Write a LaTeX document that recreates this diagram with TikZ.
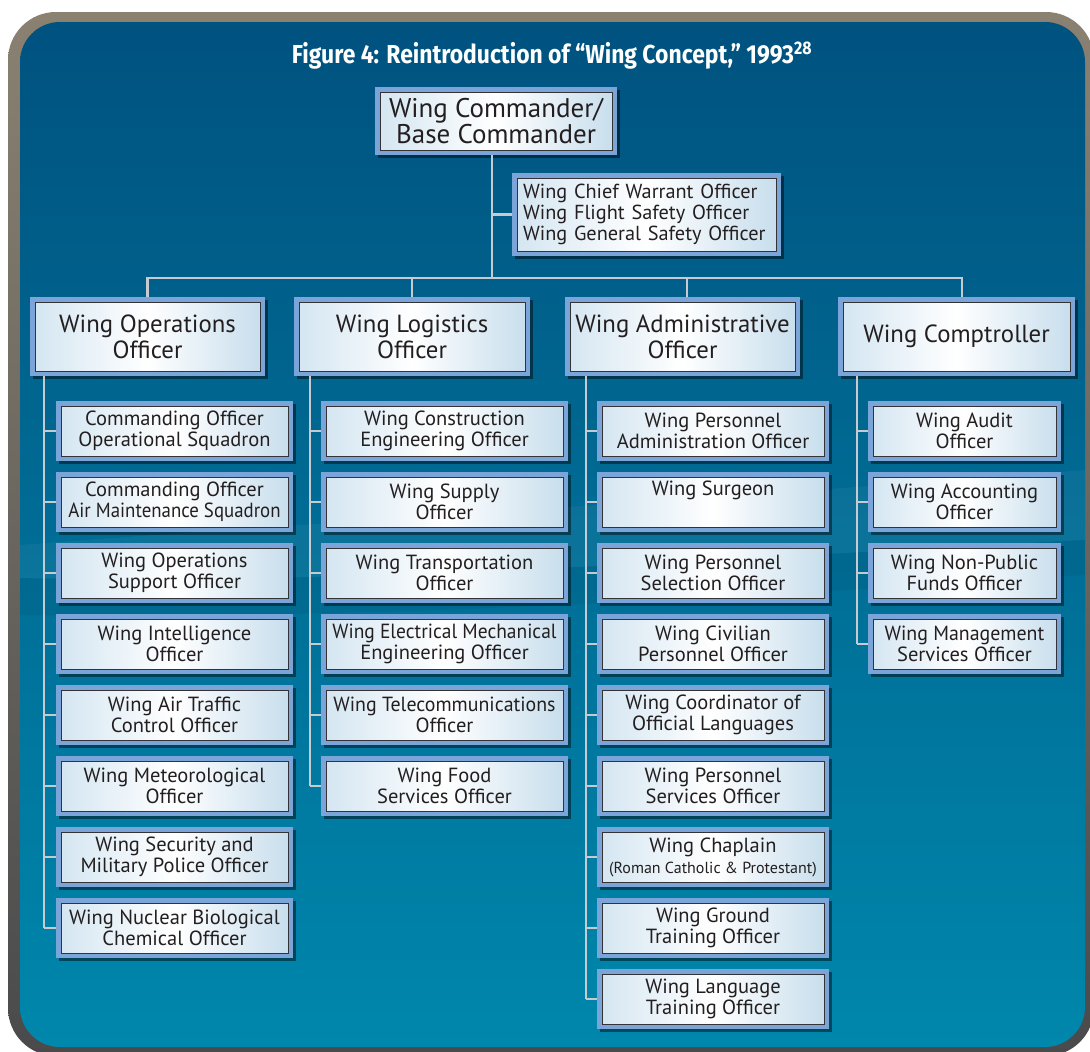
\documentclass[tikz,border=0pt]{standalone}
\usepackage{fontspec}
\setmainfont{PT Sans}
\newfontfamily\titlefont{Fira Sans}
\usetikzlibrary{shadows,calc}
\definecolor{bgtop}{HTML}{00527F}
\definecolor{bgbot}{HTML}{0087AC}
\definecolor{boxblue}{HTML}{7BA4D8}
\definecolor{conncol}{HTML}{C5CBD0}
\definecolor{brdtop}{HTML}{8A8171}
\definecolor{brdbot}{HTML}{4A4A4C}
\definecolor{txt}{HTML}{231F20}
\definecolor{inl}{HTML}{D3E5F1}
\definecolor{inr}{HTML}{C6DDEC}
\definecolor{edge}{HTML}{333335}
\newcommand{\sq}[2]{\scalebox{#1}[1]{#2}}
\tikzset{
  obox/.style={fill=boxblue, inner sep=0pt, align=center, text=txt,
    drop shadow={shadow xshift=3pt,shadow yshift=-3pt,opacity=0.45,fill=black},
    path picture={
      \shade[left color=inl, right color=inr, middle color=white, draw=edge, line width=0.9pt]
        ([shift={(5pt,5pt)}]path picture bounding box.south west) rectangle
        ([shift={(-5pt,-5pt)}]path picture bounding box.north east);
    }},
  lvlthree/.style={obox, minimum height=60pt, font=\fontsize{20.5}{21}\selectfont},
  lvltwo/.style={obox, minimum height=79pt, font=\fontsize{24.8}{26}\selectfont},
  conn/.style={draw=conncol, line width=2.4pt},
}
\begin{document}
\begin{tikzpicture}[x=1pt,y=-1pt]
\useasboundingbox (0,0) rectangle (1090,1052);
\fill[white] (0,0) rectangle (1090,1052);
% frame
\shade[top color=brdtop, bottom color=brdbot, rounded corners=48pt] (8,12) rectangle (1094,1056);
\shade[top color=bgtop, bottom color=bgbot, rounded corners=40pt] (20,22) rectangle (1085,1047);
\begin{scope}
\clip[rounded corners=40pt] (20,22) rectangle (1085,1047);
\fill[white, opacity=0.045] (20,545) .. controls (350,520) and (700,500) .. (1085,470)
   -- (1085,540) .. controls (700,560) and (350,585) .. (20,578) -- cycle;
\fill[black, opacity=0.05] (20,578) .. controls (350,585) and (700,560) .. (1085,540)
   -- (1085,575) .. controls (700,600) and (350,620) .. (20,615) -- cycle;
\end{scope}

% title
\node[text=white, font=\titlefont\bfseries\fontsize{26}{28}\selectfont] (title) at (552,56)
  {\scalebox{0.88}[1]{Figure 4: Reintroduction of “Wing Concept,” 1993\textsuperscript{28}}};

% coordinates
\coordinate (hub) at (492,278);
\coordinate (dadm) at (687,278);
\coordinate (dcmp) at (962,278);
\coordinate (sops) at (44,0);
\coordinate (slog) at (310,0);
\coordinate (sadm) at (586,0);
\coordinate (scmp) at (857,0);

% top boxes
\node[obox, minimum width=242pt, minimum height=68pt, font=\fontsize{27}{26}\selectfont] (cmd) at (496,121)
  {Wing Commander/\\Base Commander};
\node[obox, minimum width=269pt, minimum height=83pt, align=left, text width=247pt, inner xsep=11pt,
      font=\fontsize{20.3}{21}\selectfont] (chief) at (646.5,214.5)
  {Wing Chief Warrant Officer\\Wing Flight Safety Officer\\Wing General Safety Officer};

\draw[conn] (cmd.south -| hub) -- (hub);
\draw[conn] (chief.west) -- (chief.west -| hub);

% level 2
\node[lvltwo, minimum width=235pt] (ops) at (147.5,336.5) {Wing Operations\\Officer};
\node[lvltwo, minimum width=236pt] (log) at (412,336.5) {Wing Logistics\\Officer};
\node[lvltwo, minimum width=235pt] (adm) at (682.5,336.5) {Wing Administrative\\Officer};
\node[lvltwo, minimum width=237pt] (cmp) at (956.5,336.5) {Wing Comptroller};

\draw[conn] (ops.north) |- (dcmp) -- (cmp.north -| dcmp);
\draw[conn] (log.north) -- (log.north |- hub);
\draw[conn] (adm.north -| dadm) -- (dadm);

% operations column
\foreach \t [count=\i] in {
  {Commanding Officer\\Operational Squadron},
  {Commanding Officer\\\sq{0.92}{Air Maintenance Squadron}},
  {Wing Operations\\Support Officer},
  {Wing Intelligence\\Officer},
  {Wing Air Traffic\\Control Officer},
  {Wing Meteorological\\Officer},
  {Wing Security and\\Military Police Officer},
  {Wing Nuclear Biological\\Chemical Officer}}{
  \node[lvlthree, minimum width=237pt] (o\i) at (174.5,{431+71*(\i-1)}) {\t};
  \draw[conn] (o\i.west) -- (o\i.west -| sops);
}
\draw[conn] (ops.south -| sops) -- (o8.west -| sops);

% logistics column
\foreach \t [count=\i] in {
  {Wing Construction\\Engineering Officer},
  {Wing Supply\\Officer},
  {Wing Transportation\\Officer},
  {\sq{0.95}{Wing Electrical Mechanical}\\Engineering Officer},
  {\sq{0.97}{Wing Telecommunications}\\Officer},
  {Wing Food\\Services Officer}}{
  \node[lvlthree, minimum width=247pt] (l\i) at (444.5,{431+71*(\i-1)}) {\t};
  \draw[conn] (l\i.west) -- (l\i.west -| slog);
}
\draw[conn] (log.south -| slog) -- (l6.west -| slog);

% administrative column
\foreach \t [count=\i] in {
  {Wing Personnel\\Administration Officer},
  {Wing Surgeon\\\strut},
  {Wing Personnel\\Selection Officer},
  {Wing Civilian\\Personnel Officer},
  {Wing Coordinator of\\Official Languages},
  {Wing Personnel\\Services Officer},
  {Wing Chaplain\\{\fontsize{16}{21}\selectfont(Roman Catholic \& Protestant)}},
  {Wing Ground\\Training Officer},
  {Wing Language\\Training Officer}}{
  \node[lvlthree, minimum width=232pt] (a\i) at (713,{431+71*(\i-1)}) {\t};
  \draw[conn] (a\i.west) -- (a\i.west -| sadm);
}
\draw[conn] (adm.south -| sadm) -- (a9.west -| sadm);

% comptroller column
\foreach \t [count=\i] in {
  {Wing Audit\\Officer},
  {Wing Accounting\\Officer},
  {Wing Non-Public\\Funds Officer},
  {\sq{0.97}{Wing Management}\\Services Officer}}{
  \node[lvlthree, minimum width=193pt] (c\i) at (964.5,{431+71*(\i-1)}) {\t};
  \draw[conn] (c\i.west) -- (c\i.west -| scmp);
}
\draw[conn] (cmp.south -| scmp) -- (c4.west -| scmp);
\end{tikzpicture}
\end{document}
